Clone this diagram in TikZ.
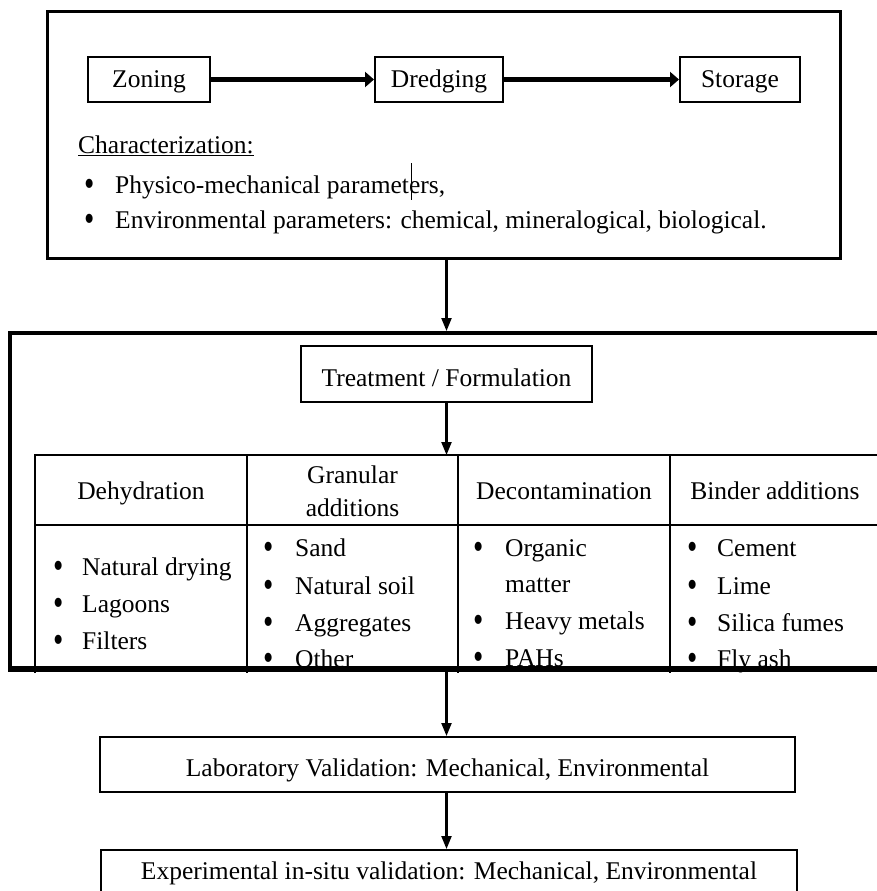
\documentclass[tikz,border=0pt]{standalone}
\usepackage{fontspec}
\usepackage{graphicx}
\setmainfont{Liberation Serif}
\usetikzlibrary{positioning}
\usetikzlibrary{arrows.meta}

\newcommand{\bul}[1]{\makebox[#1][l]{\raisebox{-0.14em}{\scalebox{1.15}[1.5]{\textbullet}}}}

\begin{document}
\begin{tikzpicture}[x=1pt,y=-1pt]
	\tikzstyle{frame}=[draw=black, line width=3pt, inner sep=0pt]
	\tikzstyle{stage}=[draw=black, line width=2pt, minimum height=45pt, inner sep=0pt]
	\tikzstyle{txt}=[inner sep=0pt, font=\fontsize{25.5}{30}\selectfont]
	\tikzstyle{flow}=[line width=2.2pt, -{Triangle[length=13pt,width=10pt]}]
	\tikzstyle{bigflow}=[line width=4.5pt, -{Triangle[length=9pt,width=15pt]}]
	
	\useasboundingbox (0,0) rectangle (877,891);
	\clip (0,0) rectangle (877,891);
	
	% top block
	\draw node at (443.5, 135) [frame, minimum width=793pt, minimum height=246pt] (top) {};
	\draw node at (149, 79.5) [stage, minimum width=122pt] (zon) {};
	\draw node at (439, 79.5) [stage, minimum width=128pt] (dre) {};
	\draw node at (740, 79.5) [stage, minimum width=120pt] (sto) {};
	\node at (149, 88) [txt, anchor=base] (zont) {Zoning};
	\node at (439, 88) [txt, anchor=base] (dret) {Dredging};
	\node at (740, 88) [txt, anchor=base] (stot) {Storage};
	\draw [bigflow] (zon) to (dre);
	\draw [bigflow] (dre) to (sto);
	
	\node at (78, 153) [txt, anchor=base west] (char) {\underline{Characterization:}};
	\node at (84, 193) [txt, anchor=base west] (par1) {\bul{31pt}Physico-mechanical parameters,};
	\node at (84, 228) [txt, anchor=base west] (par2) {\bul{31pt}Environmental parameters: chemical, mineralogical, biological.};
	\draw [line width=0.8pt] (411, 163) -- (411, 200);
	
	% middle block
	\draw node at (455, 500.5) [frame, line width=4pt, minimum width=890pt, minimum height=335pt] (mid) {};
	\draw node at (446.5, 374) [stage, line width=2.4pt, minimum width=291pt, minimum height=56pt] (treat) {};
	\node at (446.5, 386) [txt, anchor=base] (treatt) {Treatment / Formulation};
	\draw [flow] (top.south -| treat) to (mid.north -| treat);
	
	% table
	\coordinate (tab) at (446.5, 455);
	\draw [flow] (treat) to (tab);
	\draw [line width=1.2pt] (35, 673) -- (35, 455) -- (900, 455);
	\draw [line width=1.2pt] (35, 525) -- (900, 525);
	\foreach \c in {247, 458, 670}
		\draw [line width=1.2pt] (\c, 455) -- (\c, 673);
	
	\node at (141, 499) [txt, anchor=base] (h1) {Dehydration};
	\node at (352.5, 483) [txt, anchor=base] (h2) {Granular};
	\node at (352.5, 516) [txt, anchor=base] (h2b) {additions};
	\node at (564, 499) [txt, anchor=base] (h3) {Decontamination};
	\node at (775, 499) [txt, anchor=base] (h4) {Binder additions};
	
	\begin{scope}
		\clip (0, 526) rectangle (877, 672);
		\node at (53, 575) [txt, anchor=base west] (a1) {\bul{29pt}Natural drying};
		\node at (53, 612) [txt, anchor=base west] (a2) {\bul{29pt}Lagoons};
		\node at (53, 649) [txt, anchor=base west] (a3) {\bul{29pt}Filters};
		\node at (263, 556) [txt, anchor=base west] (b1) {\bul{32pt}Sand};
		\node at (263, 594) [txt, anchor=base west] (b2) {\bul{32pt}Natural soil};
		\node at (263, 631) [txt, anchor=base west] (b3) {\bul{32pt}Aggregates};
		\node at (263, 667) [txt, anchor=base west] (b4) {\bul{32pt}Other};
		\node at (473, 556) [txt, anchor=base west] (c1) {\bul{32pt}Organic};
		\node at (505, 592) [txt, anchor=base west] (c1b) {matter};
		\node at (473, 629) [txt, anchor=base west] (c2) {\bul{32pt}Heavy metals};
		\node at (473, 666) [txt, anchor=base west] (c3) {\bul{32pt}PAHs};
		\node at (687, 556) [txt, anchor=base west] (d1) {\bul{30pt}Cement};
		\node at (687, 594) [txt, anchor=base west] (d2) {\bul{30pt}Lime};
		\node at (687, 631) [txt, anchor=base west] (d3) {\bul{30pt}Silica fumes};
		\node at (687, 667) [txt, anchor=base west] (d4) {\bul{30pt}Fly ash};
	\end{scope}
	\draw [line width=4pt] (mid.south west) -- (mid.south east);
	
	% validation
	\draw node at (447.5, 764.5) [stage, minimum width=695pt, minimum height=55pt] (lab) {};
	\node at (447.5, 776) [txt, anchor=base] (labt) {Laboratory Validation: Mechanical, Environmental};
	\draw node at (449, 880) [stage, minimum width=696pt, minimum height=60pt] (exp) {};
	\node at (449, 879) [txt, anchor=base] (expt) {Experimental in-situ validation: Mechanical, Environmental};
	
	\draw [flow] (mid.south -| treat) to (lab.north -| treat);
	\draw [flow] (lab.south -| treat) to (exp.north -| treat);
\end{tikzpicture}
\end{document}
